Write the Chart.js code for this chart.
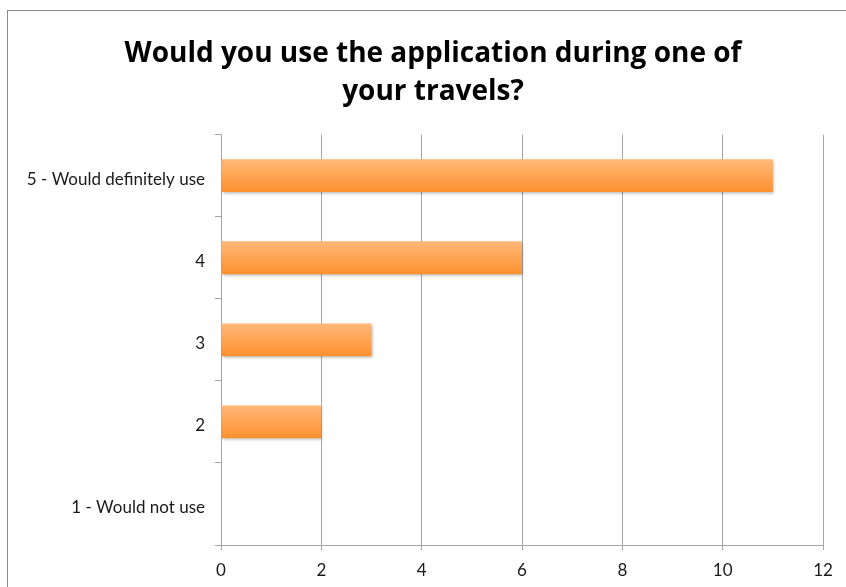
<!DOCTYPE html>
<html>
<head>
<meta charset="utf-8">
<script src="https://cdn.jsdelivr.net/npm/chart.js@4.4.0/dist/chart.umd.min.js"></script>
<style>
  body { margin: 0; background: #fff; }
  #wrap { position: relative; width: 846px; height: 587px; overflow: hidden; }
  #frame { position: absolute; left: 7px; top: 10px; width: 860px; height: 600px; border: 1px solid #8c8c8c; box-sizing: border-box; }
  canvas { position: absolute; left: 0; top: 0; }
</style>
</head>
<body>
<div id="wrap">
  <div id="frame"></div>
  <canvas id="chart" width="846" height="587"></canvas>
</div>
<script>
const categories = ["5 - Would definitely use", "4", "3", "2", "1 - Would not use"];
const responses = [11, 6, 3, 2, 0];
const xTicks = [0, 2, 4, 6, 8, 10, 12];

const ctx = document.getElementById("chart");

// orange bar fill, lighter at the top of each bar
function barFill(context) {
    const chart = context.chart;
    if (!chart.chartArea) return "#fd9a40";
    const y = chart.scales.y;
    const mid = y.getPixelForValue(context.dataIndex);
    const half = 16;
    const g = chart.ctx.createLinearGradient(0, mid - half, 0, mid + half);
    g.addColorStop(0, "#ffb878");
    g.addColorStop(1, "#fd9130");
    return g;
}

const barShadow = {
    id: "barShadow",
    beforeDatasetDraw(chart) {
        const c = chart.ctx;
        c.save();
        c.shadowColor = "rgba(0,0,0,0.28)";
        c.shadowBlur = 3;
        c.shadowOffsetX = 1;
        c.shadowOffsetY = 2;
    },
    afterDatasetDraw(chart) {
        chart.ctx.restore();
    }
};

// the title in the original sits a bit right of the canvas centre
const titleShift = {
    id: "titleShift",
    afterLayout(chart) {
        if (chart.titleBlock) chart.titleBlock.left = 43;
    }
};

new Chart(ctx, {
    type: "bar",
    data: {
        labels: categories,
        datasets: [{
            data: responses,
            backgroundColor: barFill,
            borderWidth: 0,
            barPercentage: 0.8,
            categoryPercentage: 0.5
        }]
    },
    plugins: [barShadow, titleShift],
    options: {
        indexAxis: "y",
        responsive: false,
        animation: false,
        layout: { padding: { left: 0, right: 23, top: 0, bottom: 0 } },
        plugins: {
            legend: { display: false },
            tooltip: { enabled: false },
            title: {
                display: true,
                text: ["Would you use the application during one of", "your travels?"],
                color: "#000",
                font: { family: "Open Sans", size: 28, weight: "bold", lineHeight: 1.35 },
                padding: { top: 35, bottom: 24 }
            }
        },
        scales: {
            x: {
                min: 0,
                max: 12,
                afterBuildTicks(axis) {
                    axis.ticks = xTicks.map(v => ({ value: v }));
                },
                afterFit(axis) { axis.height = 42; },
                grid: { color: "#a6a6a6", lineWidth: 1, tickLength: 5, tickColor: "#a6a6a6" },
                border: { color: "#a6a6a6" },
                ticks: { color: "#1a1a1a", font: { family: "Lato", size: 17 }, padding: 10 }
            },
            y: {
                afterFit(axis) { axis.width = 221; },
                grid: { drawOnChartArea: false, tickLength: 6, color: "#a6a6a6" },
                border: { color: "#a6a6a6" },
                ticks: { color: "#1a1a1a", font: { family: "Lato", size: 17 }, padding: 10, labelOffset: 4 }
            }
        }
    }
});
</script>
</body>
</html>
